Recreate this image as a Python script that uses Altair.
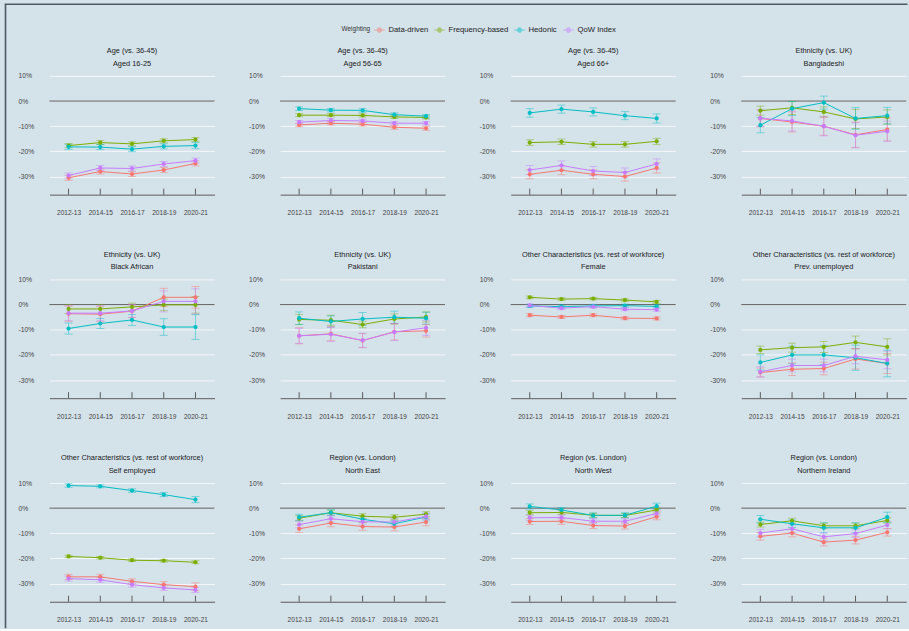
import altair as alt
import pandas as pd

# Survey years on the x axis
years = ["2012-13", "2014-15", "2016-17", "2018-19", "2020-21"]

# Weighting schemes and their colours
series = ["Data-driven", "Frequency-based", "Hedonic", "QoW Index"]
palette = ["#F8766D", "#7CAE00", "#00BFC4", "#C77CFF"]

# Panel headings (group, category)
groups = [
    "Age (vs. 36-45)", "Age (vs. 36-45)", "Age (vs. 36-45)", "Ethnicity (vs. UK)",
    "Ethnicity (vs. UK)", "Ethnicity (vs. UK)",
    "Other Characteristics (vs. rest of workforce)",
    "Other Characteristics (vs. rest of workforce)",
    "Other Characteristics (vs. rest of workforce)",
    "Region (vs. London)", "Region (vs. London)", "Region (vs. London)",
]
categories = [
    "Aged 16-25", "Aged 56-65", "Aged 66+", "Bangladeshi",
    "Black African", "Pakistani", "Female", "Prev. unemployed",
    "Self employed", "North East", "North West", "Northern Ireland",
]

# Estimated gaps (%) per panel, one list per weighting scheme
data_driven = [
    [-30.5, -28.0, -29.0, -27.4, -24.8],
    [-9.5, -8.8, -9.2, -10.4, -10.8],
    [-29.1, -27.5, -29.1, -30.0, -26.6],
    [-6.9, -8.3, -10.0, -13.4, -11.3],
    [-3.6, -3.8, -2.6, 2.9, 2.9],
    [-12.4, -11.6, -14.3, -10.8, -10.4],
    [-4.2, -4.9, -4.2, -5.4, -5.5],
    [-27.0, -25.7, -25.4, -21.6, -23.4],
    [-27.3, -27.3, -29.1, -30.4, -31.2],
    [-8.2, -5.9, -7.3, -7.5, -5.5],
    [-5.3, -5.2, -6.9, -7.1, -3.4],
    [-11.2, -9.9, -13.5, -12.7, -9.6],
]
frequency_based = [
    [-17.7, -16.5, -17.0, -15.8, -15.3],
    [-5.6, -5.6, -5.7, -6.3, -6.5],
    [-16.5, -16.2, -17.2, -17.2, -16.0],
    [-3.8, -2.7, -4.3, -7.1, -6.3],
    [-1.7, -1.7, -0.9, -0.1, -0.1],
    [-5.9, -6.2, -7.9, -5.7, -4.9],
    [2.9, 2.2, 2.4, 1.8, 1.1],
    [-18.0, -17.1, -16.8, -15.0, -16.8],
    [-19.2, -19.7, -20.7, -20.9, -21.5],
    [-4.0, -1.8, -3.2, -3.6, -2.4],
    [-1.8, -1.7, -2.8, -2.9, -0.7],
    [-6.5, -5.0, -7.0, -7.0, -4.9],
]
hedonic = [
    [-18.2, -18.3, -19.1, -18.0, -17.7],
    [-3.0, -3.6, -3.7, -5.4, -6.0],
    [-4.7, -3.2, -4.3, -5.8, -6.9],
    [-9.6, -3.0, -0.6, -6.9, -5.8],
    [-9.5, -7.5, -6.1, -8.9, -8.9],
    [-5.4, -6.7, -5.7, -5.0, -5.4],
    [-0.5, -0.8, -0.5, -0.4, -0.7],
    [-23.0, -20.0, -20.0, -21.1, -23.4],
    [9.0, 8.7, 7.0, 5.4, 3.4],
    [-3.6, -1.8, -4.4, -6.2, -3.5],
    [0.7, -0.7, -2.9, -2.8, 0.8],
    [-4.4, -6.2, -7.8, -7.8, -3.6],
]
qow_index = [
    [-29.6, -26.6, -26.8, -25.0, -23.7],
    [-8.4, -7.7, -7.9, -8.8, -8.8],
    [-27.4, -25.6, -27.8, -28.4, -25.0],
    [-6.8, -7.9, -10.0, -13.6, -12.0],
    [-3.4, -3.4, -2.5, 1.3, 1.3],
    [-12.4, -11.8, -14.2, -10.9, -9.2],
    [-0.3, -1.4, -0.8, -1.8, -2.0],
    [-26.7, -24.2, -24.2, -20.5, -22.0],
    [-28.0, -28.5, -30.4, -31.7, -32.5],
    [-6.5, -4.2, -5.4, -5.5, -3.3],
    [-3.8, -3.7, -5.2, -5.2, -2.1],
    [-9.9, -8.2, -11.4, -10.1, -6.7],
]

# Half-widths of the confidence intervals (percentage points)
data_driven_ci = [
    [1.0, 1.0, 1.0, 1.0, 1.0],
    [0.7, 0.7, 0.7, 0.8, 0.8],
    [1.8, 1.8, 1.8, 1.8, 2.0],
    [3.3, 4.0, 3.6, 5.0, 4.5],
    [3.0, 3.0, 2.5, 3.6, 4.3],
    [3.2, 2.8, 2.8, 3.3, 2.5],
    [0.6, 0.6, 0.6, 0.6, 0.6],
    [1.8, 2.5, 2.5, 4.0, 4.0],
    [1.0, 1.0, 1.0, 1.2, 1.5],
    [1.5, 1.5, 1.5, 1.5, 1.5],
    [1.2, 1.2, 1.2, 1.2, 1.2],
    [1.5, 1.5, 1.5, 1.5, 1.5],
]
frequency_based_ci = [
    [0.8, 0.8, 0.8, 0.8, 0.8],
    [0.6, 0.6, 0.6, 0.6, 0.6],
    [1.1, 1.1, 1.1, 1.1, 1.2],
    [1.8, 2.6, 2.0, 3.8, 2.8],
    [1.8, 1.8, 1.5, 2.3, 3.3],
    [2.0, 2.0, 1.3, 2.0, 2.0],
    [0.5, 0.5, 0.5, 0.5, 0.6],
    [1.5, 1.8, 2.2, 2.5, 3.2],
    [0.5, 0.5, 0.5, 0.5, 0.6],
    [1.0, 1.0, 1.0, 1.0, 1.0],
    [0.8, 0.8, 0.8, 0.8, 0.8],
    [1.0, 1.0, 1.0, 1.0, 1.0],
]
hedonic_ci = [
    [1.0, 1.0, 1.0, 1.0, 1.2],
    [0.7, 0.7, 0.7, 0.7, 0.7],
    [1.7, 1.6, 1.6, 1.6, 1.8],
    [3.0, 2.8, 2.6, 4.3, 3.3],
    [2.2, 2.0, 2.2, 3.3, 4.9],
    [2.5, 2.2, 2.6, 2.4, 2.4],
    [0.6, 0.6, 0.6, 0.6, 0.6],
    [3.0, 3.5, 3.8, 5.0, 5.3],
    [0.7, 0.6, 0.7, 0.8, 1.2],
    [1.2, 1.2, 1.2, 1.2, 1.2],
    [1.0, 1.0, 1.0, 1.0, 1.2],
    [1.5, 1.5, 2.0, 2.0, 2.0],
]
qow_index_ci = [
    [1.0, 1.0, 1.0, 1.0, 1.0],
    [0.7, 0.7, 0.7, 0.7, 0.7],
    [1.8, 1.8, 1.8, 1.8, 2.0],
    [3.3, 4.0, 3.8, 5.0, 4.0],
    [3.0, 3.0, 2.5, 4.2, 5.0],
    [3.0, 2.8, 2.8, 3.3, 3.0],
    [0.6, 0.6, 0.6, 0.6, 0.6],
    [2.0, 2.5, 2.5, 3.0, 3.5],
    [1.0, 1.0, 1.0, 1.0, 1.0],
    [1.3, 1.3, 1.3, 1.3, 1.3],
    [1.0, 1.0, 1.0, 1.0, 1.0],
    [1.5, 1.5, 1.5, 1.5, 1.5],
]

y_ticks = [-30, -20, -10, 0, 10]

# ---------------------------------------------------------------- long table
estimates = [data_driven, frequency_based, hedonic, qow_index]
intervals = [data_driven_ci, frequency_based_ci, hedonic_ci, qow_index_ci]
rows = []
for p in range(len(categories)):
    for s, name in enumerate(series):
        for t, yr in enumerate(years):
            v = estimates[s][p][t]
            e = intervals[s][p][t]
            rows.append({"panel": p, "series": name, "year": yr,
                         "value": v, "lo": v - e, "hi": v + e})
df = pd.DataFrame(rows)

# ---------------------------------------------------------------- styling
FONT = "Liberation Sans"
BG = "#d4e2ea"
DARK = "#5a5a5a"
FRAME = "#4d5964"
W, H = 165, 125.75
ROW_GAP, COL_GAP = 77.55, 65.6
TOP_GAP = 63.7
Y_DOMAIN = [-37.2, 12.8]

xscale = alt.Scale(type="point", domain=years, padding=0.6)
yscale = alt.Scale(domain=Y_DOMAIN, nice=False, zero=False)
cscale = alt.Scale(domain=series, range=palette)

xaxis = alt.Axis(title=None, labelAngle=0, labelFontSize=6.6, labelColor="#444444",
                 labelFont=FONT, labelPadding=15, ticks=False, tickSize=0,
                 domain=True, domainColor=DARK, domainWidth=1, grid=False)
yaxis = alt.Axis(title=None, values=y_ticks, labelExpr="datum.value + '%'",
                 labelAlign="left", labelPadding=31.5, labelFontSize=6.8,
                 labelColor="#444444", labelFont=FONT, ticks=False, tickSize=0,
                 domain=False, grid=True, gridColor="#f4f7f9", gridWidth=1)

legend = alt.Legend(
    orient="none", legendX=292, legendY=19.5, direction="horizontal",
    title="Weighting", titleOrient="left", titleFontSize=6.5,
    titleFontWeight="normal", titleColor="#333333", titleFont=FONT,
    titlePadding=3, labelFontSize=7.7, labelColor="#1a1a1a", labelFont=FONT,
    labelOffset=3, columnPadding=3,
    symbolType="M -1 0 L 1 0 M 0.42 0 A 0.42 0.42 0 1 1 -0.42 0 A 0.42 0.42 0 1 1 0.42 0 Z",
    symbolSize=121, symbolStrokeWidth=1,
)

year_df = pd.DataFrame({"year": years})
zero_df = pd.DataFrame({"ref": [0.0]})
one_df = pd.DataFrame({"k": [0]})


def panel(p):
    d = df[df["panel"] == p]
    base = alt.Chart(d)
    x = alt.X("year:N", scale=xscale, axis=xaxis)
    color = alt.Color("series:N", scale=cscale, legend=legend)

    zero = alt.Chart(zero_df).mark_rule(color=DARK, strokeWidth=1).encode(
        y=alt.Y("ref:Q", scale=yscale, axis=yaxis))
    bars = base.mark_rule(strokeWidth=0.9, opacity=0.5).encode(
        x=x, y=alt.Y("lo:Q", scale=yscale, axis=yaxis), y2="hi:Q", color=color)
    cap_lo = base.mark_tick(size=8, thickness=0.9, opacity=0.5).encode(
        x=x, y=alt.Y("lo:Q", scale=yscale, axis=yaxis), color=color)
    cap_hi = base.mark_tick(size=8, thickness=0.9, opacity=0.5).encode(
        x=x, y=alt.Y("hi:Q", scale=yscale, axis=yaxis), color=color)
    line = base.mark_line(strokeWidth=1).encode(
        x=x, y=alt.Y("value:Q", scale=yscale, axis=yaxis), color=color)
    pts = base.mark_circle(size=18, opacity=1).encode(
        x=x, y=alt.Y("value:Q", scale=yscale, axis=yaxis), color=color)
    ticks = alt.Chart(year_df).mark_rule(color=DARK, strokeWidth=1).encode(
        x=x, y=alt.value(H - 6), y2=alt.value(H))

    return alt.layer(zero, bars, cap_lo, cap_hi, line, pts, ticks).properties(
        width=W, height=H,
        title=alt.TitleParams(
            text=[groups[p], categories[p]], fontSize=7.4, font=FONT,
            fontWeight="normal", color="#1a1a1a", anchor="middle",
            frame="group", lineHeight=12.6, baseline="bottom", offset=-6.3),
    )


# Thin strip above the grid that carries the figure frame (top and left edges)
frame_cell = alt.layer(
    alt.Chart(one_df).mark_rule(color=FRAME, strokeWidth=1.6).encode(
        x=alt.value(-44), y=alt.value(0), y2=alt.value(624)),
    alt.Chart(one_df).mark_rule(color=FRAME, strokeWidth=1.6).encode(
        x=alt.value(-44.8), x2=alt.value(858), y=alt.value(0)),
).properties(width=W, height=1)

grid = alt.concat(
    *[panel(p) for p in range(len(categories))],
    columns=4, spacing={"row": ROW_GAP, "column": COL_GAP}, bounds="flush",
)

chart = alt.vconcat(
    frame_cell, grid, spacing=TOP_GAP, bounds="flush",
).properties(
    padding={"left": 3.5, "top": 3.2, "right": 0, "bottom": 0},
).configure(
    background=BG, font=FONT,
).configure_view(strokeWidth=0)

chart.save("out.html", embed_options={"renderer": "svg", "actions": False})
